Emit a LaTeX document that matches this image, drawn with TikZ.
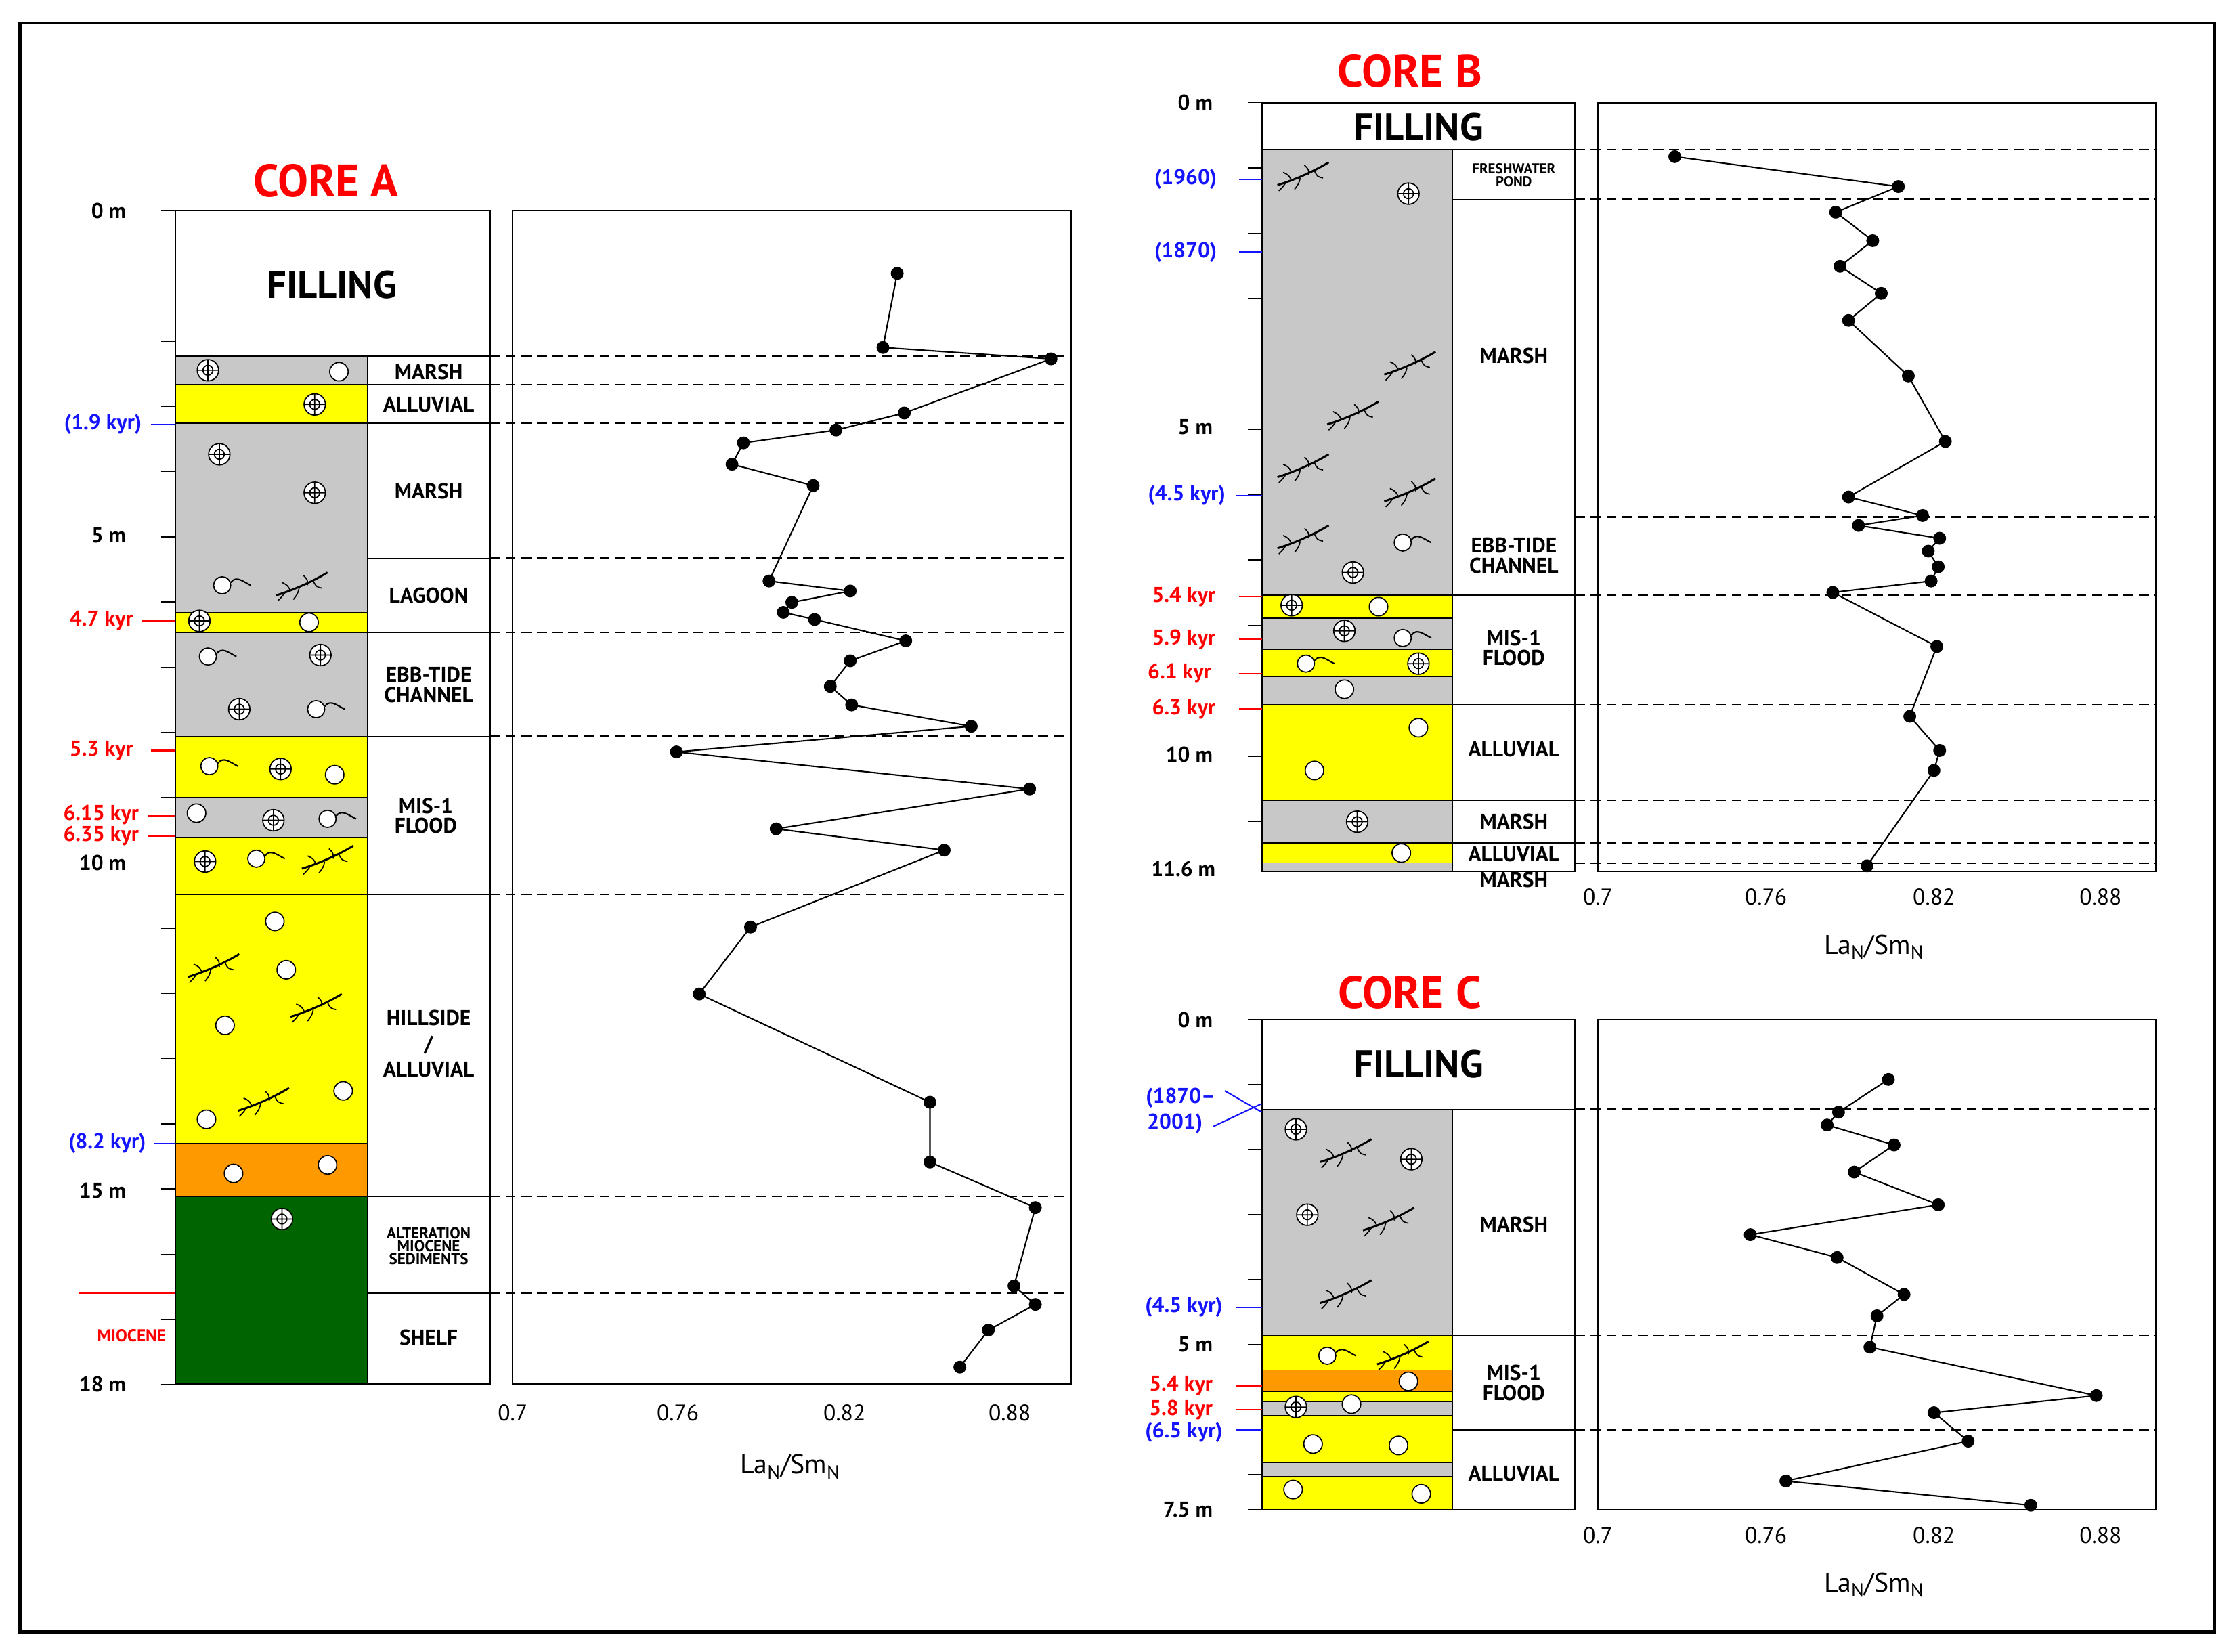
\documentclass[tikz,border=0pt]{standalone}
\usepackage{fontspec}
\setmainfont{PT Sans}
\definecolor{lgray}{RGB}{200,200,200}
\definecolor{lyel}{RGB}{255,255,0}
\definecolor{lorange}{RGB}{255,153,0}
\definecolor{lgreen}{RGB}{0,100,0}
\definecolor{ablue}{RGB}{20,20,255}
\definecolor{ared}{RGB}{255,0,0}
\tikzset{
  fossil/.pic={\draw[fill=white,line width=0.8pt] (0,0) circle (7.5); \draw[line width=0.8pt] (0,0) circle (3.5) (-7.5,0)--(7.5,0) (0,-7.5)--(0,7.5);},
  pebble/.pic={\draw[fill=white,line width=0.8pt] (0,0) circle (6.5);},
  shell/.pic={\draw[fill=white,line width=0.8pt] (0,0) circle (6); \draw[line width=1pt] (6,-2) .. controls (10,-7) and (14,-3) .. (20,0);},
  root/.pic={\draw[line width=1.4pt] (-18,8) .. controls (-5,4) and (8,-2) .. (18,-8);
    \draw[line width=0.8pt] (-8,5) .. controls (-10,1) .. (-14,-1) (-2,3) .. controls (-3,7) .. (-6,11) (4,1) .. controls (4,-3) .. (1,-6) (8,-2) .. controls (10,2) .. (14,3) (-12,6) .. controls (-14,9) .. (-17,12);},
  lbl/.style={font=\bfseries\fontsize{15}{17}\selectfont,align=center},
  dep/.style={font=\bfseries\fontsize{15}{16}\selectfont,anchor=east},
  agb/.style={font=\bfseries\fontsize{15}{16}\selectfont,text=ablue,anchor=east},
  agr/.style={font=\bfseries\fontsize{15}{16}\selectfont,text=ared,anchor=east},
  ttl/.style={font=\bfseries\fontsize{32}{34}\selectfont,text=ared},
  fil/.style={font=\bfseries\fontsize{27}{29}\selectfont},
  bnd/.style={dash pattern=on 7pt off 4pt,line width=1pt},
  curve/.style={line width=1pt},
  dot/.style={circle,fill=black,inner sep=0pt,minimum size=9pt},
  tck/.style={font=\fontsize{16}{17}\selectfont},
}
\begin{document}
\begin{tikzpicture}[x=1pt,y=-1pt]
\useasboundingbox (0,0) rectangle (1568,1160);
\draw[line width=2pt] (14,16) rectangle (1555,1146);

%%%%% CORE A
\node[ttl] (tA) at (229,127) {CORE A};
\foreach \c/\a/\b in {lgray/250/270,lyel/270/297,lgray/297/430,lyel/430/444,lgray/444/517,lyel/517/560,lgray/560/588,lyel/588/628,lyel/628/803,lorange/803/840,lgreen/840/972}
  \filldraw[fill=\c,draw=black,line width=0.8pt] (123,\a) rectangle (258,\b);
\draw[line width=1pt] (123,148) rectangle (344,972);
\draw[line width=0.8pt] (258,250)--(258,972);
\foreach \y in {250,270,297,392,444,517,628,840,908} \draw[line width=0.8pt] (258,\y)--(344,\y);
\draw[line width=0.8pt] (123,250)--(258,250);
\node[fil] (fA) at (233,200) {FILLING};
\node[lbl] at (301,261) {MARSH};
\node[lbl] at (301,284) {ALLUVIAL};
\node[lbl] at (301,345) {MARSH};
\node[lbl] at (301,418) {LAGOON};
\node[lbl] at (301,481) {EBB-TIDE\\[-3pt]CHANNEL};
\node[lbl] at (299,573) {MIS-1\\[-3pt]FLOOD};
\node[lbl,font=\bfseries\fontsize{15}{18}\selectfont] at (301,733) {HILLSIDE\\/\\ALLUVIAL};
\node[lbl,font=\bfseries\fontsize{11}{12}\selectfont] at (301,875) {ALTERATION\\[-3pt]MIOCENE\\[-3pt]SEDIMENTS};
\node[lbl] at (301,939) {SHELF};
\foreach \k in {0,...,18} \draw[line width=0.8pt] (113,148+45.8*\k)--(123,148+45.8*\k);
\node[dep] at (92,148) {0 m};
\node[dep] at (92,376) {5 m};
\node[dep] at (92,606) {10 m};
\node[dep] at (92,836) {15 m};
\node[dep] at (92,972) {18 m};
\node[agb] at (103,298) {(1.9 kyr)}; \draw[ablue,line width=1pt] (106,298)--(123,298);
\node[agr] at (97,436) {4.7 kyr}; \draw[ared,line width=1pt] (100,436)--(123,436);
\node[agr] at (97,527) {5.3 kyr}; \draw[ared,line width=1pt] (106,527)--(123,527);
\node[agr] at (101,572) {6.15 kyr}; \draw[ared,line width=1pt] (104,573)--(123,573);
\node[agr] at (101,587) {6.35 kyr}; \draw[ared,line width=1pt] (104,587)--(123,587);
\node[agb] at (106,803) {(8.2 kyr)}; \draw[ablue,line width=1pt] (108,803)--(123,803);
\node[agr,font=\bfseries\fontsize{12}{13}\selectfont] at (120,938) {MIOCENE}; \draw[ared,line width=1pt] (55,908)--(123,908);
\foreach \x/\y in {146/260,221/284,154/319,221/346,140/436,225/460,168/498,197/540,192/576,144/605,198/856} \pic at (\x,\y) {fossil};
\foreach \x/\y in {238/261,217/437,235/544,138/571,193/647,201/681,158/720,241/766,145/786,164/824,230/818} \pic at (\x,\y) {pebble};
\foreach \x/\y in {156/411,146/461,222/498,147/538,230/575,180/603} \pic at (\x,\y) {shell};
\foreach \x/\y in {212/410,230/602,150/678,222/706,185/772} \pic at (\x,\y) {root};
% graph A
\draw[line width=1pt] (360,148) rectangle (752,972);
\foreach \y in {250,270,297,392,444,517,628,840,908} \draw[bnd] (344,\y)--(752,\y);
\foreach \v/\x in {0.7/360,0.76/476,0.82/593,0.88/709} \node[tck] at (\x,992) {\v};
\node[tck,font=\fontsize{19}{20}\selectfont] (xA) at (555,1030) {La$_{\mathrm{N}}$/Sm$_{\mathrm{N}}$};
\draw[curve] plot coordinates {(630,192) (620,244) (738,252) (635,290) (587,302) (522,311) (514,326) (571,341) (540,408) (597,415) (556,423) (550,430) (572,435) (636,450) (597,464) (583,482) (598,495) (682,510) (475,528) (723,554) (545,582) (663,597) (527,651) (491,698) (653,774) (653,816) (727,848) (712,903) (727,916) (694,934) (674,960)};
\foreach \x/\y in {630/192,620/244,738/252,635/290,587/302,522/311,514/326,571/341,540/408,597/415,556/423,550/430,572/435,636/450,597/464,583/482,598/495,682/510,475/528,723/554,545/582,663/597,527/651,491/698,653/774,653/816,727/848,712/903,727/916,694/934,674/960} \node[dot] at (\x,\y) {};

%%%%% CORE B
\node[ttl] (tB) at (990,50) {CORE B};
\foreach \c/\a/\b in {lgray/105/418,lyel/418/434,lgray/434/456,lyel/456/475,lgray/475/495,lyel/495/562,lgray/562/592,lyel/592/606,lgray/606/612}
  \filldraw[fill=\c,draw=black,line width=0.8pt] (886,\a) rectangle (1020,\b);
\draw[line width=1pt] (886,72) rectangle (1106,612);
\draw[line width=0.8pt] (1020,105)--(1020,612) (886,105)--(1020,105);
\foreach \y in {105,140,363,418,495,562,592,606} \draw[line width=0.8pt] (1020,\y)--(1106,\y);
\node[fil] (fB) at (996,89) {FILLING};
\node[lbl,font=\bfseries\fontsize{10}{11}\selectfont] at (1063,123) {FRESHWATER\\[-2pt]POND};
\node[lbl] at (1063,250) {MARSH};
\node[lbl] at (1063,390) {EBB-TIDE\\[-3pt]CHANNEL};
\node[lbl] at (1063,455) {MIS-1\\[-3pt]FLOOD};
\node[lbl] at (1063,526) {ALLUVIAL};
\node[lbl] at (1063,577) {MARSH};
\node[lbl] at (1063,600) {ALLUVIAL};
\node[lbl] at (1063,618) {MARSH};
\foreach \k in {0,...,11} \draw[line width=0.8pt] (876,72+45.9*\k)--(886,72+45.9*\k);
\node[dep] at (855,72) {0 m};
\node[dep] at (855,300) {5 m};
\node[dep] at (855,530) {10 m};
\node[dep] at (857,610) {11.6 m};
\node[agb] at (858,126) {(1960)}; \draw[ablue,line width=1pt] (870,126)--(886,126);
\node[agb] at (858,177) {(1870)}; \draw[ablue,line width=1pt] (870,177)--(886,177);
\node[agb] at (864,348) {(4.5 kyr)}; \draw[ablue,line width=1pt] (868,348)--(886,348);
\node[agr] at (857,419) {5.4 kyr}; \draw[ared,line width=1pt] (870,419)--(886,419);
\node[agr] at (857,449) {5.9 kyr}; \draw[ared,line width=1pt] (870,449)--(886,449);
\node[agr] at (854,473) {6.1 kyr}; \draw[ared,line width=1pt] (870,473)--(886,473);
\node[agr] at (857,498) {6.3 kyr}; \draw[ared,line width=1pt] (870,498)--(886,498);
\foreach \x/\y in {989/136,950/402,907/425,944/443,996/466,953/577} \pic at (\x,\y) {fossil};
\foreach \x/\y in {968/426,944/484,996/511,923/541,984/599} \pic at (\x,\y) {pebble};
\foreach \x/\y in {985/381,985/448,917/466} \pic at (\x,\y) {shell};
\foreach \x/\y in {915/122,990/255,950/290,915/327,990/344,915/377} \pic at (\x,\y) {root};
% graph B
\draw[line width=1pt] (1122,72) rectangle (1514,612);
\foreach \y in {105,140,363,418,495,562,592,606} \draw[bnd] (1106,\y)--(1514,\y);
\foreach \v/\x in {0.7/1122,0.76/1240,0.82/1358,0.88/1475} \node[tck] at (\x,630) {\v};
\node[tck,font=\fontsize{19}{20}\selectfont] (xB) at (1316,665) {La$_{\mathrm{N}}$/Sm$_{\mathrm{N}}$};
\draw[curve] plot coordinates {(1176,110) (1333,131) (1289,149) (1315,169) (1292,187) (1321,206) (1298,225) (1340,264) (1366,310) (1298,349) (1350,362) (1305,369) (1362,378) (1354,387) (1361,398) (1356,408) (1287,416) (1360,454) (1341,503) (1362,527) (1358,541) (1311,608)};
\foreach \x/\y in {1176/110,1333/131,1289/149,1315/169,1292/187,1321/206,1298/225,1340/264,1366/310,1298/349,1350/362,1305/369,1362/378,1354/387,1361/398,1356/408,1287/416,1360/454,1341/503,1362/527,1358/541,1311/608} \node[dot] at (\x,\y) {};

%%%%% CORE C
\node[ttl] (tC) at (990,697) {CORE C};
\foreach \c/\a/\b in {lgray/779/938,lyel/938/962,lorange/962/977,lyel/977/984,lgray/984/994,lyel/994/1027,lgray/1027/1037,lyel/1037/1060}
  \filldraw[fill=\c,draw=black,line width=0.8pt] (886,\a) rectangle (1020,\b);
\draw[line width=1pt] (886,716) rectangle (1106,1060);
\draw[line width=0.8pt] (1020,779)--(1020,1060) (886,779)--(1020,779);
\foreach \y in {779,938,1004} \draw[line width=0.8pt] (1020,\y)--(1106,\y);
\node[fil] (fC) at (996,747) {FILLING};
\node[lbl] at (1063,860) {MARSH};
\node[lbl] at (1063,971) {MIS-1\\[-3pt]FLOOD};
\node[lbl] at (1063,1035) {ALLUVIAL};
\foreach \k in {0,...,7} \draw[line width=0.8pt] (876,716+45.6*\k)--(886,716+45.6*\k);
\draw[line width=0.8pt] (876,1060)--(886,1060);
\node[dep] at (855,716) {0 m};
\node[dep] at (855,944) {5 m};
\node[dep] at (855,1060) {7.5 m};
\node[agb,anchor=center] at (829,771) {(1870--}; \node[agb,anchor=center] at (825,789) {2001)};
\draw[ablue,line width=1pt] (860,766)--(886,781) (852,791)--(886,775);
\node[agb] at (862,918) {(4.5 kyr)}; \draw[ablue,line width=1pt] (868,918)--(886,918);
\node[agr] at (855,973) {5.4 kyr}; \draw[ared,line width=1pt] (868,973)--(886,973);
\node[agr] at (855,990) {5.8 kyr}; \draw[ared,line width=1pt] (868,990)--(886,990);
\node[agb] at (862,1006) {(6.5 kyr)}; \draw[ablue,line width=1pt] (868,1004)--(886,1004);
\foreach \x/\y in {910/793,991/814,918/853,910/988} \pic at (\x,\y) {fossil};
\foreach \x/\y in {989/970,949/986,922/1014,982/1015,908/1046,998/1049} \pic at (\x,\y) {pebble};
\foreach \x/\y in {932/952} \pic at (\x,\y) {shell};
\foreach \x/\y in {945/808,975/856,945/907,985/950} \pic at (\x,\y) {root};
% graph C
\draw[line width=1pt] (1122,716) rectangle (1514,1060);
\foreach \y in {779,938,1004} \draw[bnd] (1106,\y)--(1514,\y);
\foreach \v/\x in {0.7/1122,0.76/1240,0.82/1358,0.88/1475} \node[tck] at (\x,1078) {\v};
\node[tck,font=\fontsize{19}{20}\selectfont] (xC) at (1316,1113) {La$_{\mathrm{N}}$/Sm$_{\mathrm{N}}$};
\draw[curve] plot coordinates {(1326,758) (1291,781) (1283,790) (1330,804) (1302,823) (1361,846) (1229,867) (1290,883) (1337,909) (1318,924) (1313,946) (1472,980) (1358,992) (1382,1012) (1254,1040) (1426,1057)};
\foreach \x/\y in {1326/758,1291/781,1283/790,1330/804,1302/823,1361/846,1229/867,1290/883,1337/909,1318/924,1313/946,1472/980,1358/992,1382/1012,1254/1040,1426/1057} \node[dot] at (\x,\y) {};
\end{tikzpicture}
\end{document}
